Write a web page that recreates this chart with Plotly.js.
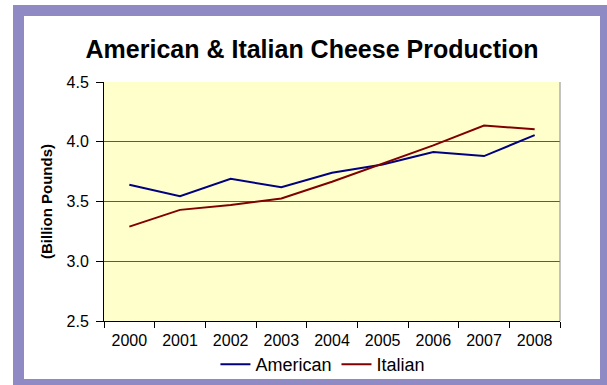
<!DOCTYPE html>
<html>
<head>
<meta charset="utf-8">
<script src="https://cdn.plot.ly/plotly-3.0.1.min.js"></script>
<style>
  html, body { margin: 0; padding: 0; background: #ffffff; overflow: hidden; width: 607px; height: 385px; }
  #frame { position: absolute; left: 13px; top: 5px; width: 576px; height: 363px; border: 11px solid #8F89C4; background: #ffffff; }
  #chart { width: 576px; height: 363px; }
</style>
</head>
<body>
<div id="frame"><div id="chart"></div></div>
<script>
const years = ['2000', '2001', '2002', '2003', '2004', '2005', '2006', '2007', '2008'];
const american = [3.64, 3.545, 3.69, 3.62, 3.74, 3.81, 3.915, 3.88, 4.055];
const italian = [3.29, 3.43, 3.47, 3.525, 3.665, 3.815, 3.97, 4.135, 4.105];
const yTicks = [2.5, 3.0, 3.5, 4.0, 4.5];

const font = 'Liberation Sans, Arial, sans-serif';

const traces = [
  { x: years, y: american, name: 'American', type: 'scatter', mode: 'lines',
    line: { color: '#000080', width: 2 } },
  { x: years, y: italian, name: 'Italian', type: 'scatter', mode: 'lines',
    line: { color: '#800000', width: 2 } }
];

const layout = {
  width: 576, height: 363,
  margin: { l: 80, r: 40, t: 66, b: 58 },
  paper_bgcolor: '#ffffff',
  plot_bgcolor: '#FFFFCC',
  font: { family: font, color: '#000000', size: 16 },
  title: { text: '<b>American & Italian Cheese Production</b>',
           font: { family: font, size: 25, color: '#000000' },
           x: 0.5, xref: 'container', xanchor: 'center', y: 0.909, yanchor: 'middle' },
  xaxis: {
    type: 'category', categoryorder: 'array', categoryarray: years,
    range: [-0.5, 8.5], tickson: 'boundaries', automargin: false,
    ticks: 'outside', ticklen: 6, tickcolor: '#000000', tickwidth: 1,
    ticklabelstandoff: 5,
    showline: true, linecolor: '#000000', linewidth: 1,
    showgrid: false, zeroline: false,
    tickfont: { family: font, size: 16, color: '#000000' }
  },
  yaxis: {
    range: [2.5, 4.5], tickvals: yTicks, tickformat: '.1f', automargin: false,
    ticks: 'outside', ticklen: 7, tickcolor: '#000000', tickwidth: 1,
    ticklabelstandoff: 4,
    showline: true, linecolor: '#000000', linewidth: 1,
    showgrid: true, gridcolor: '#5a5a5a', gridwidth: 1, zeroline: false,
    tickfont: { family: font, size: 16, color: '#000000' },
    title: { text: '<b>(Billion Pounds)</b>', font: { family: font, size: 15, color: '#000000' }, standoff: 10 }
  },
  shapes: [
    { type: 'line', xref: 'paper', yref: 'paper', x0: 1, x1: 1, y0: 0, y1: 1,
      line: { color: '#888888', width: 1 }, layer: 'above' }
  ],
  legend: {
    orientation: 'h', xref: 'container', yref: 'container',
    x: 0.519, xanchor: 'center', y: 0.04, yanchor: 'middle',
    font: { family: font, size: 18, color: '#000000' },
    itemwidth: 30, bgcolor: 'rgba(0,0,0,0)', traceorder: 'normal'
  },
  showlegend: true
};

Plotly.newPlot('chart', traces, layout, { displayModeBar: false, staticPlot: true });
</script>
</body>
</html>
